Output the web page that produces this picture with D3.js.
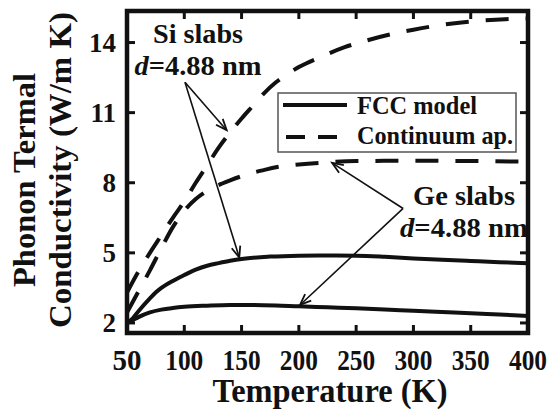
<!DOCTYPE html>
<html>
<head>
<meta charset="utf-8">
<script src="https://cdn.jsdelivr.net/npm/d3@7"></script>
<style>
  body { margin: 0; background: #fff; }
  text { font-family: "Liberation Serif", "Times New Roman", serif; font-weight: bold; fill: #111; }
</style>
</head>
<body>
<script>
// temperatures (K) and conductivities (W/m K)
let siFccT = [50, 55, 60, 70, 75, 80, 90, 100, 110, 120, 130, 140, 150, 175, 200, 225, 250, 275, 300, 325, 350, 375, 400];
let siFccK = [2.0, 2.2, 2.5, 3.05, 3.3, 3.5, 3.8, 4.05, 4.28, 4.45, 4.56, 4.66, 4.74, 4.84, 4.88, 4.89, 4.88, 4.83, 4.76, 4.7, 4.65, 4.6, 4.56];

let geFccT = [50, 55, 60, 70, 80, 90, 100, 120, 140, 160, 180, 200, 225, 250, 275, 300, 325, 350, 375, 400];
let geFccK = [2.0, 2.12, 2.25, 2.45, 2.57, 2.64, 2.69, 2.74, 2.77, 2.77, 2.75, 2.71, 2.67, 2.63, 2.58, 2.52, 2.47, 2.42, 2.36, 2.3];

let siContT = [50, 60, 70, 80, 90, 100, 110, 120, 130, 140, 150, 160, 170, 180, 190, 200, 220, 240, 260, 280, 300, 320, 340, 360, 380, 400];
let siContK = [3.3, 4.2, 5.0, 5.75, 6.5, 7.2, 8.0, 8.75, 9.5, 10.15, 10.75, 11.3, 11.85, 12.3, 12.65, 12.95, 13.4, 13.8, 14.1, 14.35, 14.55, 14.72, 14.85, 14.94, 15.0, 15.03];

let geContT = [50, 60, 70, 80, 90, 100, 110, 120, 130, 140, 150, 160, 170, 180, 200, 220, 250, 300, 350, 400];
let geContK = [2.45, 3.35, 4.25, 5.2, 6.1, 6.8, 7.3, 7.65, 7.9, 8.1, 8.28, 8.43, 8.55, 8.66, 8.78, 8.86, 8.93, 8.94, 8.93, 8.9];

let xTicks = [50, 100, 150, 200, 250, 300, 350, 400];
let yTicks = [2, 5, 8, 11, 14];

let legendLabels = ["FCC model", "Continuum ap."];

// arrows: [tailT, tailK, headT, headK]
let siArrows = [[100.6, 12.3, 137, 10.25], [100.6, 12.3, 148, 4.8]];
let geArrows = [[291, 6.9, 229, 8.85], [291, 6.9, 201, 2.77]];

function makeSeries(ts, ks){
    return ts.map(function(t, i){ return {t: t, k: ks[i]}; });
}

function main(){
    let width = 551;
    let height = 410;

    let svg = d3.select("body").append("svg")
        .attr("width", width)
        .attr("height", height);

    let x = d3.scaleLinear().domain([50, 400]).range([127, 528]);
    let y = d3.scaleLinear().domain([1.57, 15.35]).range([333, 11]);

    let line = d3.line()
        .x(function(d){ return x(d.t); })
        .y(function(d){ return y(d.k); })
        .curve(d3.curveMonotoneX);

    // curves
    let solid = [makeSeries(siFccT, siFccK), makeSeries(geFccT, geFccK)];
    let dashed = [makeSeries(siContT, siContK), makeSeries(geContT, geContK)];

    svg.selectAll("path.solid")
        .data(solid)
        .enter()
        .append("path")
        .attr("class", "solid")
        .attr("d", line)
        .attr("fill", "none")
        .attr("stroke", "#111")
        .attr("stroke-width", 4);

    svg.selectAll("path.dashed")
        .data(dashed)
        .enter()
        .append("path")
        .attr("class", "dashed")
        .attr("d", line)
        .attr("fill", "none")
        .attr("stroke", "#111")
        .attr("stroke-width", 4)
        .attr("stroke-dasharray", "23,17");

    // frame
    svg.append("rect")
        .attr("x", x(50))
        .attr("y", y(15.35))
        .attr("width", x(400) - x(50))
        .attr("height", y(1.57) - y(15.35))
        .attr("fill", "none")
        .attr("stroke", "#111")
        .attr("stroke-width", 4.5);

    // inward ticks, all four sides
    let tl = 8;
    xTicks.slice(1, -1).forEach(function(t){
        svg.append("line").attr("x1", x(t)).attr("x2", x(t))
            .attr("y1", 333).attr("y2", 333 - tl)
            .attr("stroke", "#111").attr("stroke-width", 3);
        svg.append("line").attr("x1", x(t)).attr("x2", x(t))
            .attr("y1", 11).attr("y2", 11 + tl)
            .attr("stroke", "#111").attr("stroke-width", 3);
    });
    yTicks.forEach(function(v){
        svg.append("line").attr("x1", 127).attr("x2", 127 + tl)
            .attr("y1", y(v)).attr("y2", y(v))
            .attr("stroke", "#111").attr("stroke-width", 3);
        svg.append("line").attr("x1", 528).attr("x2", 528 - tl)
            .attr("y1", y(v)).attr("y2", y(v))
            .attr("stroke", "#111").attr("stroke-width", 3);
    });

    // tick labels
    svg.selectAll("text.xt")
        .data(xTicks)
        .enter()
        .append("text")
        .attr("class", "xt")
        .attr("x", function(d){ return x(d); })
        .attr("y", 370)
        .attr("text-anchor", "middle")
        .attr("font-size", 29)
        .attr("textLength", function(d){ return d < 100 ? 29 : 38; })
        .attr("lengthAdjust", "spacingAndGlyphs")
        .text(function(d){ return d; });

    svg.selectAll("text.yt")
        .data(yTicks)
        .enter()
        .append("text")
        .attr("class", "yt")
        .attr("x", 116)
        .attr("y", function(d){ return y(d) + 9.5; })
        .attr("text-anchor", "end")
        .attr("font-size", 27)
        .text(function(d){ return d; });

    // axis titles
    svg.append("text")
        .attr("x", 330)
        .attr("y", 402)
        .attr("text-anchor", "middle")
        .attr("font-size", 33)
        .attr("textLength", 235)
        .attr("lengthAdjust", "spacingAndGlyphs")
        .text("Temperature (K)");

    svg.append("text")
        .attr("transform", "translate(35,180) rotate(-90)")
        .attr("text-anchor", "middle")
        .attr("font-size", 32)
        .attr("textLength", 214)
        .attr("lengthAdjust", "spacingAndGlyphs")
        .text("Phonon Termal");

    svg.append("text")
        .attr("transform", "translate(71,170) rotate(-90)")
        .attr("text-anchor", "middle")
        .attr("font-size", 32)
        .attr("textLength", 316)
        .attr("lengthAdjust", "spacingAndGlyphs")
        .text("Conductivity (W/m K)");

    // legend
    let lg = svg.append("g");
    lg.append("rect")
        .attr("x", 278).attr("y", 93)
        .attr("width", 238).attr("height", 59)
        .attr("fill", "#fff")
        .attr("stroke", "#555")
        .attr("stroke-width", 1.5);
    lg.append("line")
        .attr("x1", 283).attr("x2", 347).attr("y1", 105).attr("y2", 105)
        .attr("stroke", "#111").attr("stroke-width", 4);
    lg.append("line")
        .attr("x1", 286).attr("x2", 341).attr("y1", 137).attr("y2", 137)
        .attr("stroke", "#111").attr("stroke-width", 4)
        .attr("stroke-dasharray", "19,13");
    lg.selectAll("text")
        .data(legendLabels)
        .enter()
        .append("text")
        .attr("x", 357)
        .attr("y", function(d, i){ return 114 + i * 30; })
        .attr("font-size", 25)
        .attr("textLength", function(d, i){ return i === 0 ? 120 : 156; })
        .attr("lengthAdjust", "spacingAndGlyphs")
        .text(function(d){ return d; });

    // annotations
    function label(cx, by, first, w1, w2){
        svg.append("text")
            .attr("x", cx).attr("y", by)
            .attr("text-anchor", "middle")
            .attr("font-size", 28)
            .attr("textLength", w1)
            .attr("lengthAdjust", "spacingAndGlyphs")
            .text(first);
        let t = svg.append("text")
            .attr("x", cx).attr("y", by + 32)
            .attr("text-anchor", "middle")
            .attr("font-size", 28)
            .attr("textLength", w2)
            .attr("lengthAdjust", "spacingAndGlyphs");
        t.append("tspan").attr("font-style", "italic").text("d");
        t.append("tspan").text("=4.88 nm");
    }
    label(198, 43, "Si slabs", 90, 127);
    label(464, 205, "Ge slabs", 102, 128);

    function arrow(a){
        let x1 = x(a[0]), y1 = y(a[1]), x2 = x(a[2]), y2 = y(a[3]);
        let ang = Math.atan2(y2 - y1, x2 - x1);
        let hl = 12, spread = 0.38;
        svg.append("line")
            .attr("x1", x1).attr("y1", y1).attr("x2", x2).attr("y2", y2)
            .attr("stroke", "#111").attr("stroke-width", 1.6);
        let p = d3.path();
        p.moveTo(x2 - hl * Math.cos(ang - spread), y2 - hl * Math.sin(ang - spread));
        p.lineTo(x2, y2);
        p.lineTo(x2 - hl * Math.cos(ang + spread), y2 - hl * Math.sin(ang + spread));
        svg.append("path")
            .attr("d", p.toString())
            .attr("fill", "none")
            .attr("stroke", "#111")
            .attr("stroke-width", 1.8);
    }
    siArrows.forEach(arrow);
    geArrows.forEach(arrow);
}

main();
</script>
</body>
</html>
